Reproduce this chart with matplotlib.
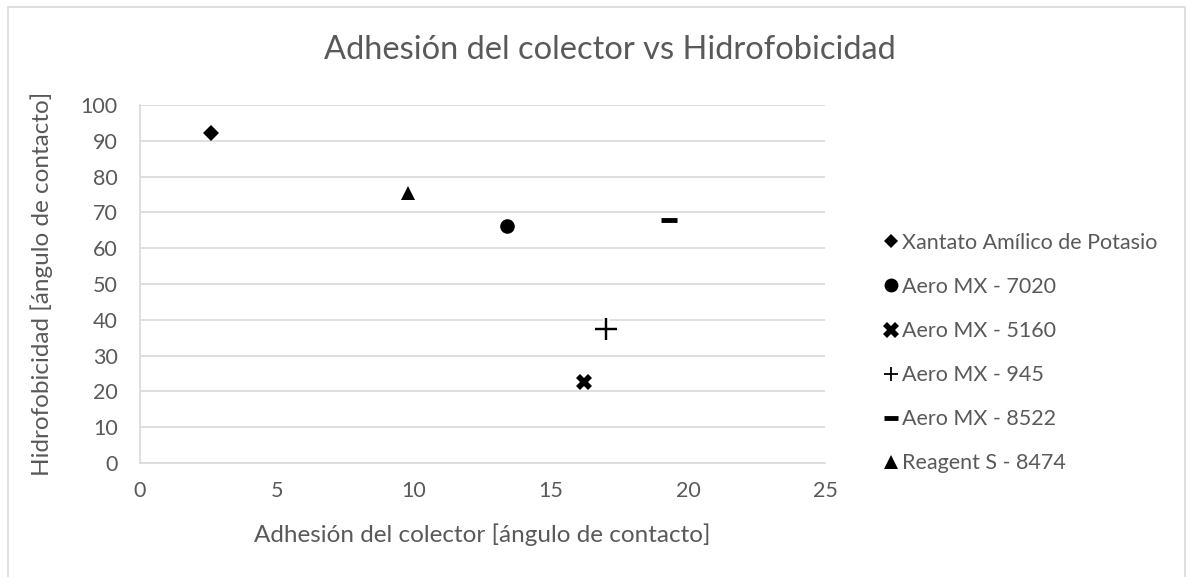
import matplotlib
matplotlib.use("Agg")
import matplotlib.pyplot as plt
import matplotlib.patheffects as pe
from matplotlib.lines import Line2D
from matplotlib.patches import Rectangle

plt.rcParams["font.family"] = ["Lato", "DejaVu Sans"]

# --- data ---
series = [
    "Xantato Amílico de Potasio",
    "Aero MX - 7020",
    "Aero MX - 5160",
    "Aero MX - 945",
    "Aero MX - 8522",
    "Reagent S - 8474",
]
adhesion = [2.6, 13.4, 16.2, 17.0, 19.3, 9.8]
hidrofobicidad = [92.2, 66.3, 22.5, 37.5, 67.8, 75.5]

markers = ["D", "o", "X", "+", "_", "^"]
sizes = [8.5, 10.5, 11, 16, 11, 10]
legend_sizes = [7.5, 10, 11.5, 10, 10, 10]
edge_w = [0, 0, 0, 1.6, 3.5, 0]

TXT = "#595959"
GRID = "#d9d9d9"

fig = plt.figure(figsize=(11.86, 5.77), dpi=100)
ax = fig.add_axes([0.118, 0.1976, 0.5776, 0.6204])

# chart area border
fig.patches.append(Rectangle((8 / 1186, -0.05), (1185 - 8) / 1186, (577 - 7) / 577 + 0.05,
                             transform=fig.transFigure, fill=False,
                             edgecolor=GRID, linewidth=1.2))

handles = []
for name, x, y, m, s, ls, w in zip(series, adhesion, hidrofobicidad, markers,
                                   sizes, legend_sizes, edge_w):
    kw = {}
    if m == "+":
        kw["path_effects"] = [pe.withStroke(linewidth=5, foreground="white"), pe.Normal()]
    ax.plot([x], [y], linestyle="none", marker=m, markersize=s, color="black",
            markeredgewidth=w, zorder=3, **kw)
    handles.append(Line2D([], [], linestyle="none", marker=m, markersize=ls,
                          color="black", markeredgewidth=min(w, 1.3) if m == "+" else w,
                          label=name))

ax.set_xlim(0, 25)
ax.set_ylim(0, 100)
ax.set_xticks(range(0, 26, 5))
ax.set_yticks(range(0, 101, 10))
ax.grid(axis="y", color=GRID, linewidth=1.2)
ax.set_axisbelow(True)
for side in ["top", "right"]:
    ax.spines[side].set_visible(False)
for side in ["left", "bottom"]:
    ax.spines[side].set_color(GRID)
    ax.spines[side].set_linewidth(1.2)
ax.tick_params(length=0, colors=TXT, labelsize=15.5)
ax.tick_params(axis="x", pad=13)
ax.tick_params(axis="y", pad=16)

ax.set_xlabel("Adhesión del colector [ángulo de contacto]", fontsize=17.5, color=TXT, labelpad=16)
ax.set_ylabel("Hidrofobicidad [ángulo de contacto]", fontsize=17.5, color=TXT, labelpad=20)
fig.text(0.514, 0.913, "Adhesión del colector vs Hidrofobicidad", fontsize=23.5,
         color=TXT, ha="center", va="center")

ax.legend(handles=handles, loc="center left", bbox_to_anchor=(0.727, 0.388),
          bbox_transform=fig.transFigure, frameon=False, fontsize=15.5,
          labelcolor=TXT, handletextpad=0.05, handlelength=0.9,
          labelspacing=1.12)

fig.savefig("out.png", dpi=100)
